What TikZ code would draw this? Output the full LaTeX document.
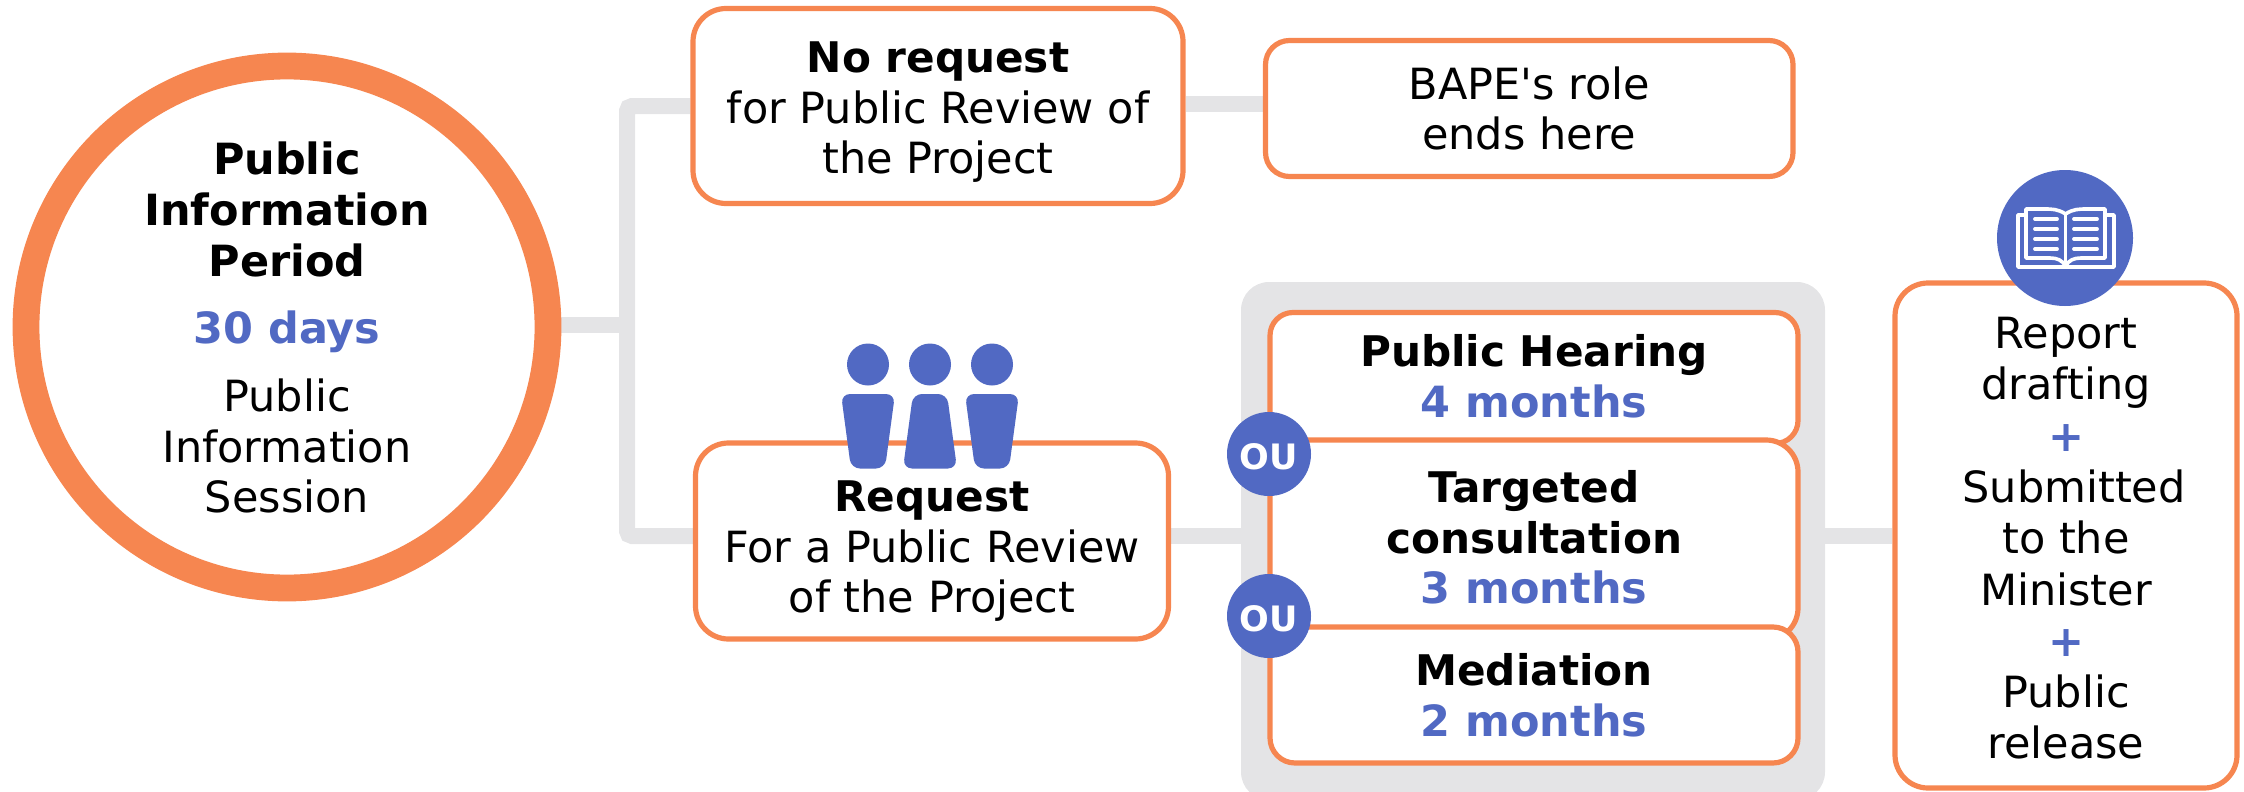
\documentclass[tikz,border=0pt]{standalone}
\usepackage{fontspec}
\setmainfont[Ligatures=TeXOff]{DejaVu Sans}
\definecolor{orng}{HTML}{F68650}
\definecolor{blu}{HTML}{5169C3}
\definecolor{gry}{HTML}{E4E4E6}
\newcommand{\hl}[1]{{\bfseries\color{blu}#1}}
\newcommand{\hd}[1]{{\fontsize{42.2}{50.7}\bfseries\selectfont #1}}
\newcommand{\tall}[1]{\rule{0pt}{#1pt}}
\newcommand{\deep}[1]{\rule[-#1pt]{0pt}{#1pt}}
\pgfdeclarelayer{backdrop}
\pgfsetlayers{backdrop,main}
\tikzset{
  x=1pt,y=-1pt,
  txt/.style={font=\fontsize{43}{50.7}\selectfont,align=center,inner sep=0pt},
  card/.style={txt,draw=orng,fill=white,line width=5.2pt,rounded corners=33pt},
  conn/.style={draw=gry,line width=16pt,rounded corners=5pt},
  oubadge/.style={circle,fill=blu,minimum size=84pt,inner sep=0pt,text=white,font=\fontsize{35}{35}\bfseries\selectfont},
  figure/.style={fill=blu,rounded corners=9pt},
  bookline/.style={draw=white,line width=3.6pt},
  bookrule/.style={draw=white,line width=3.8pt,line cap=round},
}
\begin{document}
\begin{tikzpicture}
\useasboundingbox (0,0) rectangle (2244,792);
% nodes
\node[circle,draw=orng,fill=white,line width=26.8pt,minimum size=522pt,txt] (circ) at (287,327) {%
  \tall{34}\textbf{Public}\\\textbf{Information}\\\textbf{Period}\\[17pt]\hl{30 days}\\[17pt]Public\\Information\\Session};
\node[card,minimum width=490pt,minimum height=195pt] (noreq) at (938,106) {\tall{43}\hd{No request}\\for Public Review of\\the Project};
\node[card,rounded corners=24pt,minimum width=527.5pt,minimum height=136pt] (bape) at (1529.25,108.5) {BAPE's role\\ends here};
\node[card,minimum width=473pt,minimum height=196pt] (req) at (932,541) {\tall{51}\hd{Request}\\For a Public Review\\of the Project};
\node[card,rounded corners=23pt,minimum width=528pt,minimum height=131pt] (hear) at (1534,378) {\hd{Public Hearing}\\\hl{4 months}\deep{4}};
\node[card,rounded corners=32pt,minimum width=528pt,minimum height=200pt] (targ) at (1534,540) {\hd{Targeted}\\\hd{consultation}\\\hl{3 months}\deep{6}};
\node[card,rounded corners=25pt,minimum width=528pt,minimum height=136pt] (med) at (1534,695) {\hd{Mediation}\\\hl{2 months}};
\node[card,font=\fontsize{43}{51.3}\selectfont,minimum width=342pt,minimum height=505pt] (rep) at (2066,535.5) {\tall{37}Report\\drafting\\\hl{+}\\\hspace*{16pt}Submitted\\to the\\Minister\\\hl{+}\\Public\\release};
\node[oubadge] (ou1) at (1269,454) {\tall{31}OU};
\node[oubadge] (ou2) at (1269,616) {\tall{31}OU};
% connectors
\coordinate (hubtop) at (627,106);
\coordinate (hubmid) at (627,325);
\coordinate (hubbot) at (627,536);
\coordinate (bapein) at (1265,104);
\coordinate (noout) at (1186,104);
\coordinate (reqout) at (1171,536);
\coordinate (panelin) at (1241,536);
\coordinate (panelout) at (1825,536);
\coordinate (repin) at (1892,536);
\coordinate (circout) at (540,325);
\begin{pgfonlayer}{backdrop}
\fill[gry,rounded corners=28pt] (1241,282) rectangle (1825,800);
\draw[conn] (noreq.west) -- (hubtop) -- (hubbot) -- (req.west |- hubbot);
\draw[conn] (circout) -- (hubmid);
\draw[conn] (noout) -- (bapein);
\draw[conn] (reqout) -- (panelin);
\draw[conn] (panelout) -- (repin);
\end{pgfonlayer}
% people
\fill[blu] (868,364.5) circle (21) (930,364.5) circle (21) (992,364.5) circle (21);
\fill[figure] (841,394) -- (895,394) -- (885,468.5) -- (851,468.5) -- cycle;
\fill[figure] (913,394) -- (947,394) -- (957,468.5) -- (903,468.5) -- cycle;
\fill[figure] (965,394) -- (1019,394) -- (1009,468.5) -- (975,468.5) -- cycle;
% book
\node[circle,fill=blu,minimum size=136pt,inner sep=0pt] (bookdisc) at (2065,238) {};
\draw[bookline,line join=round] (2024,215) -- (2018,215) -- (2018,267) -- (2114,267) -- (2114,215) -- (2107,215);
\draw[bookline,line join=round,fill=blu] (2065.5,214) .. controls (2058,209) and (2052,209) .. (2044,209) -- (2026,209) -- (2026,258) -- (2050,258) .. controls (2057,258) and (2062,260) .. (2065.5,266) .. controls (2069,260) and (2074,258) .. (2081,258) -- (2105,258) -- (2105,209) -- (2087,209) .. controls (2079,209) and (2073,209) .. (2065.5,214) -- cycle;
\draw[bookline] (2065.5,214) -- (2065.5,266);
\foreach \y in {219,229,239,249} {
  \draw[bookrule] (2035,\y) -- (2057,\y);
  \draw[bookrule] (2074,\y) -- (2097,\y);
}
\end{tikzpicture}
\end{document}
